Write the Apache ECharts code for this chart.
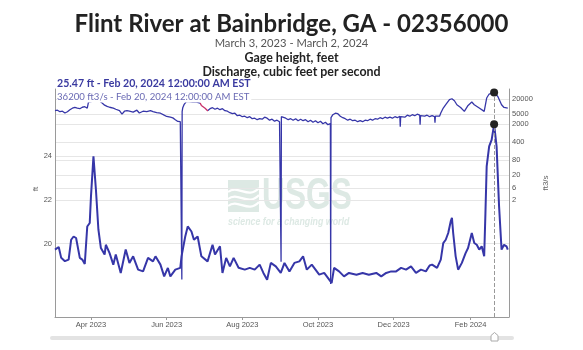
<!DOCTYPE html>
<html><head><meta charset="utf-8">
<script src="https://cdn.jsdelivr.net/npm/echarts@6/dist/echarts.min.js"></script>
<style>html,body{margin:0;padding:0;background:#fff}#c{width:583px;height:350px}</style>
</head><body><div id="c"></div>
<script>
const gageDates = ['2023-03-03','2023-03-06','2023-03-08','2023-03-11','2023-03-14','2023-03-16','2023-03-18','2023-03-20','2023-03-23','2023-03-25','2023-03-27','2023-03-29','2023-03-31','2023-04-01','2023-04-03','2023-04-05','2023-04-07','2023-04-09','2023-04-12','2023-04-13','2023-04-16','2023-04-19','2023-04-21','2023-04-25','2023-04-29','2023-05-02','2023-05-05','2023-05-09','2023-05-13','2023-05-17','2023-05-21','2023-05-23','2023-05-27','2023-05-30','2023-06-02','2023-06-04','2023-06-08','2023-06-12','2023-06-13','2023-06-16','2023-06-18','2023-06-21','2023-06-23','2023-06-26','2023-06-29','2023-07-04','2023-07-08','2023-07-10','2023-07-14','2023-07-16','2023-07-19','2023-07-22','2023-07-25','2023-07-29','2023-08-03','2023-08-07','2023-08-11','2023-08-15','2023-08-18','2023-08-21','2023-08-24','2023-08-28','2023-09-01','2023-09-04','2023-09-08','2023-09-12','2023-09-16','2023-09-19','2023-09-22','2023-09-26','2023-09-29','2023-10-02','2023-10-06','2023-10-09','2023-10-12','2023-10-14','2023-10-18','2023-10-22','2023-10-26','2023-11-01','2023-11-06','2023-11-11','2023-11-17','2023-11-21','2023-11-25','2023-11-29','2023-12-03','2023-12-07','2023-12-11','2023-12-15','2023-12-19','2023-12-23','2023-12-27','2023-12-30','2024-01-01','2024-01-05','2024-01-08','2024-01-10','2024-01-12','2024-01-14','2024-01-16','2024-01-17','2024-01-18','2024-01-20','2024-01-22','2024-01-25','2024-01-28','2024-01-30','2024-02-02','2024-02-04','2024-02-06','2024-02-08','2024-02-10','2024-02-12','2024-02-13','2024-02-14','2024-02-16','2024-02-18','2024-02-20','2024-02-22','2024-02-24','2024-02-26','2024-02-28','2024-03-01','2024-03-02'];
const gageFt = [19.73,19.85,19.35,19.2,19.27,20.18,20.33,20.26,19.35,19.27,19.07,20.79,20.95,22.17,24.0,22.47,20.64,19.8,19.5,19.95,19.57,19.04,19.5,18.66,19.73,19.12,19.42,18.81,18.73,19.35,19.19,19.42,19.04,18.5,18.89,18.5,18.81,18.89,19.42,20.33,20.79,20.56,20.18,20.33,19.42,19.19,19.95,19.5,19.88,18.66,19.35,18.96,19.35,18.9,18.81,18.89,18.81,19.04,18.66,18.35,19.12,18.96,18.66,19.12,18.73,19.12,19.19,19.42,18.81,19.04,18.81,18.58,18.66,18.43,18.2,18.89,18.73,18.5,18.66,18.58,18.66,18.58,18.66,18.5,18.66,18.73,18.73,18.89,18.81,18.96,18.66,18.81,18.73,19.0,19.04,18.89,19.27,20.03,20.18,20.49,21.02,21.18,20.49,19.42,18.81,19.12,19.57,19.8,20.49,20.03,19.95,19.73,19.88,19.42,21.4,23.54,24.46,24.76,25.47,24.46,21.71,19.73,19.95,19.88,19.73];

const qDates = ['2023-03-03','2023-03-05','2023-03-07','2023-03-09','2023-03-11','2023-03-13','2023-03-15','2023-03-17','2023-03-19','2023-03-21','2023-03-23','2023-03-25','2023-03-27','2023-03-29','2023-03-30','2023-04-02','2023-04-05','2023-04-07','2023-04-10','2023-04-12','2023-04-14','2023-04-16','2023-04-19','2023-04-21','2023-04-24','2023-04-26','2023-04-28','2023-04-30','2023-05-02','2023-05-05','2023-05-08','2023-05-10','2023-05-13','2023-05-16','2023-05-19','2023-05-21','2023-05-24','2023-05-27','2023-05-30','2023-06-01','2023-06-04','2023-06-06','2023-06-08','2023-06-10','2023-06-12','2023-06-13T00:00','2023-06-13T06:00','2023-06-13T12:00','2023-06-14','2023-06-15','2023-06-17','2023-06-19','2023-06-22','2023-06-25','2023-06-28','2023-06-29','2023-07-02','2023-07-04','2023-07-06','2023-07-08','2023-07-10','2023-07-12','2023-07-14','2023-07-16','2023-07-18','2023-07-20','2023-07-22','2023-07-24','2023-07-26','2023-07-28','2023-07-30','2023-08-01','2023-08-03','2023-08-05','2023-08-07','2023-08-09','2023-08-11','2023-08-13','2023-08-15','2023-08-17','2023-08-19','2023-08-21','2023-08-23','2023-08-25','2023-08-27','2023-08-29','2023-08-31','2023-09-01T00:00','2023-09-01T06:00','2023-09-01T12:00','2023-09-03','2023-09-05','2023-09-07','2023-09-09','2023-09-11','2023-09-13','2023-09-15','2023-09-17','2023-09-19','2023-09-21','2023-09-23','2023-09-25','2023-09-27','2023-09-29','2023-10-01','2023-10-03','2023-10-05','2023-10-07','2023-10-09','2023-10-11T00:00','2023-10-11T06:00','2023-10-11T12:00','2023-10-13','2023-10-15','2023-10-17','2023-10-19','2023-10-21','2023-10-23','2023-10-25','2023-10-27','2023-10-29','2023-10-31','2023-11-02','2023-11-04','2023-11-06','2023-11-08','2023-11-10','2023-11-12','2023-11-14','2023-11-16','2023-11-18','2023-11-20','2023-11-22','2023-11-24','2023-11-26','2023-11-28','2023-11-30','2023-12-02','2023-12-04','2023-12-06T00:00','2023-12-06T08:00','2023-12-06T16:00','2023-12-08','2023-12-10','2023-12-12','2023-12-14','2023-12-16','2023-12-18','2023-12-20','2023-12-22T00:00','2023-12-22T08:00','2023-12-22T16:00','2023-12-24','2023-12-26','2023-12-28','2023-12-30','2024-01-01','2024-01-03T00:00','2024-01-03T08:00','2024-01-03T16:00','2024-01-05','2024-01-07','2024-01-08','2024-01-10','2024-01-12','2024-01-15','2024-01-17','2024-01-19','2024-01-21','2024-01-24','2024-01-27','2024-01-30','2024-02-02','2024-02-04','2024-02-08','2024-02-12','2024-02-14','2024-02-16','2024-02-20','2024-02-23','2024-02-26','2024-02-28','2024-03-02'];
const qCfs = [6910,7240,6310,6600,5600,6310,7570,8700,9300,8700,8280,9470,9930,8800,15200,16100,17100,17900,13900,11400,10200,9470,8800,7900,6910,5100,6600,6910,6600,6100,7240,5600,6600,6310,6910,6310,5760,5500,4600,4100,3830,3600,3050,2610,2550,2260,0.0015,6310,9080,11900,16100,15700,15200,15200,13700,11200,8600,6910,8280,9080,7900,8700,7570,8280,6910,6600,5760,5260,5500,4390,4600,4010,4200,3660,4010,3340,3500,3050,3340,3190,3830,3500,2920,3190,2670,2920,2550,2550,0.0076,4010,4200,3500,3050,3340,2920,3340,2790,3190,2790,3050,2550,2920,2430,2790,2320,2670,2120,2430,1940,2120,0.001,3660,4810,5500,5260,4200,3660,3340,2920,3190,2790,2920,2550,2790,2550,2920,2790,3190,2920,3340,3190,3660,3340,3830,3500,3830,3500,4010,3660,4200,1620,4010,4390,3830,4600,4200,4810,4390,5020,4600,1940,4390,4810,4200,4600,4010,4390,4010,2320,4200,4010,4200,5600,8800,11900,18800,20500,17100,11900,9300,6500,11200,15200,11900,8800,6500,21900,31500,36200,25300,11900,9300,8800];

const xTickDates = ['2023-04-01','2023-06-01','2023-08-01','2023-10-01','2023-12-01','2024-02-01'];
const xTickLabels = ['Apr 2023','Jun 2023','Aug 2023','Oct 2023','Dec 2023','Feb 2024'];
const ftTicks = [20,22,24];
const cfsTicks = [20000,5000,2000,400,80,20,6,2];
const peakDate = '2024-02-20';
const peakFt = 25.47;
const peakCfs = 36200;
const estStart = '2023-06-28';
const estEnd = '2023-07-04';

const toTs = s => new Date(s.length > 10 ? s : s + 'T00:00:00').getTime();
const gageData = gageDates.map((d, i) => [toTs(d), gageFt[i]]);
const qData = qDates.map((d, i) => [toTs(d), qCfs[i]]);
const xTickTs = xTickDates.map(toTs);
const peakTs = toTs(peakDate);
const BLUE = '#3636a8';
const AX = '#9a9a9a';
const LBL = { fontSize: 7.5, color: '#555', fontFamily: 'Liberation Sans' };

const chart = echarts.init(document.getElementById('c'), null, { renderer: 'canvas' });
chart.setOption({
  animation: false,
  backgroundColor: '#fff',
  title: [
    { text: 'Flint River at Bainbridge, GA - 02356000', left: 'center', top: 12, padding: 0,
      textStyle: { fontSize: 24, fontWeight: 'bold', color: '#222', fontFamily: 'Lato', lineHeight: 24 } },
    { text: 'March 3, 2023 - March 2, 2024', left: 'center', top: 37.5, padding: 0,
      textStyle: { fontSize: 11.2, fontWeight: 'normal', color: '#555', fontFamily: 'Lato', lineHeight: 11 } },
    { text: 'Gage height, feet', left: 'center', top: 52, padding: 0,
      textStyle: { fontSize: 12.4, fontWeight: 'bold', color: '#222', fontFamily: 'Lato', lineHeight: 12 } },
    { text: 'Discharge, cubic feet per second', left: 'center', top: 65.5, padding: 0,
      textStyle: { fontSize: 12.4, fontWeight: 'bold', color: '#222', fontFamily: 'Lato', lineHeight: 12 } },
    { text: '25.47 ft - Feb 20, 2024 12:00:00 AM EST', left: 57, top: 78.5, padding: 0,
      textStyle: { fontSize: 10.6, fontWeight: 'bold', color: '#3a3aa0', fontFamily: 'Lato', lineHeight: 11 } },
    { text: '36200 ft3/s - Feb 20, 2024 12:00:00 AM EST', left: 57, top: 91.5, padding: [0, 2, 0, 0],
      backgroundColor: '#fff',
      textStyle: { fontSize: 9.6, fontWeight: 'normal', color: '#6a6ab4', fontFamily: 'Lato', lineHeight: 11 } }
  ],
  grid: { left: 55, right: 74, top: 89, bottom: 33, containLabel: false, outerBoundsMode: 'none' },
  xAxis: {
    type: 'value', min: toTs('2023-03-03'), max: toTs('2024-03-03'),
    axisLine: { show: true, onZero: false, lineStyle: { color: AX, width: 1 } },
    axisTick: { show: true, length: 3, customValues: xTickTs, lineStyle: { color: AX } },
    axisLabel: { ...LBL, margin: 4, customValues: xTickTs, hideOverlap: false,
      formatter: v => { let b = 0; xTickTs.forEach((t, i) => { if (Math.abs(t - v) < Math.abs(xTickTs[b] - v)) b = i; }); return xTickLabels[b]; } },
    splitLine: { show: false }
  },
  yAxis: [
    { type: 'value', min: 16.64, max: 27.09, position: 'left',
      axisLine: { show: true, lineStyle: { color: AX, width: 1 } },
      axisTick: { show: false, customValues: ftTicks },
      axisLabel: { ...LBL, margin: 3, customValues: ftTicks, formatter: v => String(v) },
      splitLine: { show: true, lineStyle: { color: '#e6e6e6', width: 1 } } },
    { type: 'log', logBase: 10, min: 5e-5, max: 49700, position: 'right',
      axisLine: { show: true, lineStyle: { color: AX, width: 1 } },
      axisTick: { show: false, customValues: cfsTicks },
      axisLabel: { ...LBL, margin: 3, customValues: cfsTicks, formatter: v => String(Math.round(v)) },
      splitLine: { show: true, lineStyle: { color: '#e6e6e6', width: 1 } } }
  ],
  visualMap: [{
    type: 'piecewise', show: false, dimension: 0, seriesIndex: 1,
    pieces: [
      { lt: toTs(estStart), color: BLUE },
      { gte: toTs(estStart), lte: toTs(estEnd), color: '#c8336a' },
      { gt: toTs(estEnd), color: BLUE }
    ]
  }],
  graphic: [
    { type: 'rect', z: -10, shape: { x: 228, y: 180, width: 31, height: 32 }, style: { fill: '#dde9e4' } },
    { type: 'bezierCurve', z: -9, shape: { x1: 228, y1: 192, cpx1: 238, cpy1: 184, cpx2: 248, cpy2: 200, x2: 259, y2: 188 }, style: { stroke: '#fff', lineWidth: 2.2, fill: null } },
    { type: 'bezierCurve', z: -9, shape: { x1: 228, y1: 199, cpx1: 238, cpy1: 191, cpx2: 248, cpy2: 207, x2: 259, y2: 195 }, style: { stroke: '#fff', lineWidth: 2.2, fill: null } },
    { type: 'bezierCurve', z: -9, shape: { x1: 228, y1: 206, cpx1: 238, cpy1: 198, cpx2: 248, cpy2: 214, x2: 259, y2: 202 }, style: { stroke: '#fff', lineWidth: 2.2, fill: null } },
    { type: 'text', z: -10, x: 262, y: 197, scaleX: 0.72,
      style: { text: 'USGS', font: 'bold 44px "Liberation Sans"', fill: '#dde9e4', verticalAlign: 'middle', align: 'left' } },
    { type: 'text', z: -10, x: 228, y: 222, scaleX: 0.8,
      style: { text: 'science for a changing world', font: 'italic bold 11px "Liberation Sans"', fill: '#dde9e4', verticalAlign: 'middle', align: 'left' } },
    { type: 'text', x: 36, y: 189, rotation: Math.PI / 2,
      style: { text: 'ft', font: '8px "Liberation Sans"', fill: '#666', align: 'center', verticalAlign: 'middle' } },
    { type: 'text', x: 546, y: 183, rotation: Math.PI / 2,
      style: { text: 'ft3/s', font: '8px "Liberation Sans"', fill: '#666', align: 'center', verticalAlign: 'middle' } },
    { type: 'rect', shape: { x: 50, y: 336, width: 464, height: 4, r: 2 }, style: { fill: '#e3e3e3' } },
    { type: 'polygon', shape: { points: [[491, 341], [491, 335.5], [494.5, 332.5], [498, 335.5], [498, 341]] }, style: { fill: '#fff', stroke: '#aaa', lineWidth: 1 } }
  ],
  series: [
    { type: 'line', name: 'Gage height', yAxisIndex: 0, data: gageData, showSymbol: false, symbol: 'none',
      lineStyle: { color: BLUE, width: 2 }, itemStyle: { color: BLUE },
      markLine: { silent: true, symbol: ['none', 'none'], label: { show: false },
        lineStyle: { type: 'dashed', color: '#999', width: 1 }, data: [{ xAxis: peakTs }] },
      markPoint: { symbol: 'circle', symbolSize: 8, label: { show: false }, itemStyle: { color: '#222' },
        data: [{ coord: [peakTs, peakFt] }] } },
    { type: 'line', name: 'Discharge', yAxisIndex: 1, data: qData, showSymbol: false, symbol: 'none',
      lineStyle: { width: 1.3 },
      markPoint: { symbol: 'circle', symbolSize: 8, label: { show: false }, itemStyle: { color: '#222' },
        data: [{ coord: [peakTs, peakCfs] }] } }
  ]
});
</script></body></html>
